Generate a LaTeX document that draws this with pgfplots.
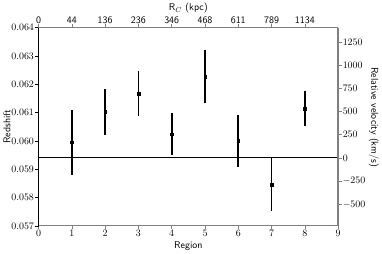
\documentclass[border=0pt]{standalone}
\usepackage{pgfplots}
\pgfplotsset{compat=1.18}
\definecolor{spinegray}{RGB}{128,128,128}
\begin{document}
\begin{tikzpicture}
\begin{axis}[
  scale only axis, width=302pt, height=200pt,
  xmin=0, xmax=9, ymin=0.057, ymax=0.064,
  xtick={0,1,...,9},
  ytick={0.057,0.058,0.059,0.060,0.061,0.062,0.063,0.064},
  yticklabel style={inner sep=1pt, /pgf/number format/.cd, fixed, fixed zerofill, precision=3},
  scaled y ticks=false,
  axis y line*=left, axis x line*=bottom,
  y axis line style={black, line width=0.8pt, -},
  x axis line style={spinegray, line width=0.8pt, -},
  tick align=outside, major tick length=3.5pt,
  xtick style={spinegray, line width=0.6pt},
  ytick style={black, line width=0.6pt},
  xticklabel style={inner sep=1pt},
  xlabel={\sffamily Region}, ylabel={\sffamily Redshift},
  xlabel style={at={(axis description cs:0.5,-0.1)}, anchor=center},
  ylabel style={at={(axis description cs:-0.106,0.5)}, anchor=center},
  clip=false,
]
\addplot[black, line width=0.8pt] coordinates {(0,0.0594) (9,0.0594)};
\addplot[only marks, mark=square*, mark size=1.3pt, black,
  error bars/.cd, y dir=both, y explicit,
  error bar style={line width=1.7pt, black}, error mark=none]
  coordinates {
  (1,0.05995) +- (0,0.00115)
  (2,0.06103) +- (0,0.00081)
  (3,0.06167) +- (0,0.00078)
  (4,0.06024) +- (0,0.00074)
  (5,0.06226) +- (0,0.00093)
  (6,0.06000) +- (0,0.00092)
  (7,0.05845) +- (0,0.00094)
  (8,0.06114) +- (0,0.00063)
  };
\end{axis}
\begin{axis}[
  scale only axis, width=302pt, height=200pt,
  xmin=0, xmax=9, ymin=-732, ymax=1405,
  xtick={0,1,...,8},
  xticklabels={0,44,136,236,346,468,611,789,1134},
  xticklabel style={font=\sffamily, inner sep=0.5pt},
  ytick={-500,-250,0,250,500,750,1000,1250},
  yticklabel style={inner sep=1pt, /pgf/number format/1000 sep={}},
  axis y line*=right, axis x line*=top,
  y axis line style={spinegray, line width=1.6pt, -},
  x axis line style={spinegray, line width=1.6pt, -},
  tick align=outside, major tick length=3.5pt,
  xtick style={spinegray, line width=0.6pt},
  ytick style={spinegray, line width=0.6pt},
  xlabel={\sffamily R$_C$ (kpc)},
  ylabel={\sffamily Relative velocity (km/s)},
  xlabel style={at={(axis description cs:0.5,1.097)}, anchor=center},
  ylabel style={at={(axis description cs:1.119,0.5475)}, anchor=center, rotate=180},
]
\addplot[draw=none] coordinates {(0,0) (9,0)};
\end{axis}
\end{tikzpicture}
\end{document}
